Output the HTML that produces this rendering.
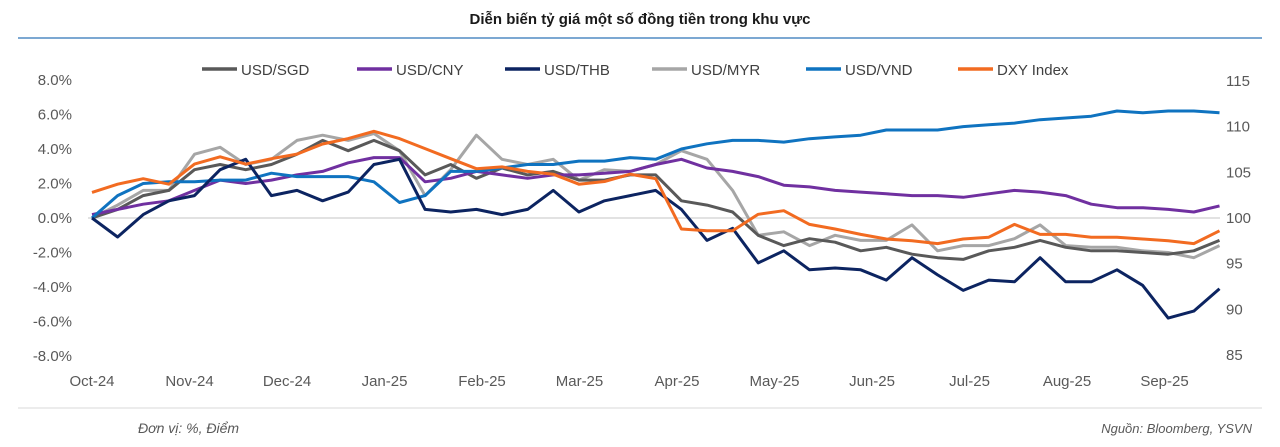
<!DOCTYPE html>
<html><head><meta charset="utf-8"><style>
body{margin:0;background:#fff;}
svg text{font-family:"Liberation Sans","Noto Sans CJK SC",sans-serif;}
</style></head><body>
<svg width="1280" height="442" viewBox="0 0 1280 442">
<text x="640" y="24" text-anchor="middle" font-size="15" font-weight="bold" fill="#1a1a1a">Diễn biến tỷ giá một số đồng tiền trong khu vực</text>
<line x1="18" y1="38" x2="1262" y2="38" stroke="#2e75b6" stroke-width="1.2"/>
<line x1="18" y1="408" x2="1262" y2="408" stroke="#d9d9d9" stroke-width="1"/>
<text x="138" y="433" font-size="14" font-style="italic" fill="#595959">Đơn vị: %, Điểm</text>
<text x="1252" y="433" text-anchor="end" font-size="13" font-style="italic" fill="#595959">Nguồn: Bloomberg, YSVN</text>
<g id="axes"></g><g id="series"></g><g id="legend"></g>
</svg>
<script>
const xLabels=["Oct-24","Nov-24","Dec-24","Jan-25","Feb-25","Mar-25","Apr-25","May-25","Jun-25","Jul-25","Aug-25","Sep-25"];
const xLabelPos=[0,1,2,3,4,5,6,7,8,9,10,11];
const leftTicks=[8,6,4,2,0,-2,-4,-6,-8];
const rightTicks=[115,110,105,100,95,90,85];
const seriesNames=["USD/SGD","USD/CNY","USD/THB","USD/MYR","USD/VND","DXY Index"];
const sgd=[0,0.5,1.3,1.6,2.8,3.1,2.8,3.1,3.7,4.5,3.9,4.5,3.9,2.5,3.1,2.3,2.9,2.5,2.7,2.2,2.2,2.5,2.5,1.0,0.75,0.35,-1.0,-1.6,-1.2,-1.4,-1.9,-1.7,-2.1,-2.3,-2.4,-1.9,-1.7,-1.3,-1.7,-1.9,-1.9,-2.0,-2.1,-1.9,-1.3];
const cny=[0.2,0.5,0.8,1.0,1.6,2.2,2.0,2.2,2.5,2.7,3.2,3.5,3.5,2.1,2.3,2.7,2.5,2.3,2.5,2.5,2.6,2.7,3.1,3.4,2.9,2.7,2.4,1.9,1.8,1.6,1.5,1.4,1.3,1.3,1.2,1.4,1.6,1.5,1.3,0.8,0.6,0.6,0.5,0.35,0.7];
const thb=[0,-1.1,0.2,1.0,1.3,2.8,3.4,1.3,1.6,1.0,1.5,3.1,3.4,0.5,0.35,0.5,0.2,0.5,1.6,0.35,1.0,1.3,1.6,0.5,-1.3,-0.6,-2.6,-1.9,-3.0,-2.9,-3.0,-3.6,-2.3,-3.3,-4.2,-3.6,-3.7,-2.3,-3.7,-3.7,-3.0,-3.9,-5.8,-5.4,-4.1];
const myr=[0,0.75,1.6,1.6,3.7,4.1,3.1,3.4,4.5,4.8,4.5,4.9,3.9,1.3,2.8,4.8,3.4,3.1,3.4,2.2,2.8,2.7,3.1,3.9,3.4,1.6,-1.0,-0.8,-1.6,-1.0,-1.3,-1.3,-0.4,-1.9,-1.6,-1.6,-1.2,-0.4,-1.6,-1.7,-1.7,-1.9,-2.0,-2.3,-1.6];
const vnd=[0,1.3,2.0,2.1,2.1,2.2,2.2,2.6,2.4,2.4,2.4,2.1,0.9,1.3,2.7,2.7,2.9,3.1,3.1,3.3,3.3,3.5,3.4,4.0,4.3,4.5,4.5,4.4,4.6,4.7,4.8,5.1,5.1,5.1,5.3,5.4,5.5,5.7,5.8,5.9,6.2,6.1,6.2,6.2,6.1];
const dxy=[102.8,103.7,104.3,103.7,105.9,106.7,105.9,106.5,107.0,108.1,108.7,109.5,108.7,107.6,106.5,105.4,105.6,105.1,104.8,103.7,104.0,104.8,104.3,98.8,98.6,98.6,100.4,100.8,99.3,98.8,98.2,97.7,97.5,97.2,97.7,97.9,99.3,98.2,98.2,97.9,97.9,97.7,97.5,97.2,98.6];

const NS="http://www.w3.org/2000/svg";
function mk(tag,attrs,parent){const e=document.createElementNS(NS,tag);for(const k in attrs)e.setAttribute(k,attrs[k]);parent.appendChild(e);return e;}
const xMonth=m=>92+m*97.5;
const xIdx=i=>92+i*8*3.203;
const yL=p=>218-p*17.25;
const yR=v=>218-(v-100)*9.13;
const axes=document.getElementById('axes');
const zl=mk('line',{x1:88,y1:yL(0),x2:1220,y2:yL(0),stroke:'#d9d9d9','stroke-width':1.5},axes);


leftTicks.forEach(t=>{const e=mk('text',{x:72,y:yL(t)+5,'text-anchor':'end','font-size':15,fill:'#595959'},axes);e.textContent=t.toFixed(1)+'%';

});
rightTicks.forEach(t=>{const e=mk('text',{x:1226,y:yR(t)+5,'font-size':15,fill:'#595959'},axes);e.textContent=t;

});
xLabels.forEach((l,i)=>{const e=mk('text',{x:xMonth(xLabelPos[i]),y:386,'text-anchor':'middle','font-size':15,fill:'#595959'},axes);e.textContent=l;

});
const colors=['#595959','#7030a0','#0c2461','#a6a6a6','#0f73c0','#f26b21'];
const data=[sgd,cny,thb,myr,vnd,dxy];
const sg=document.getElementById('series');
const order=[3,0,1,4,2,5];
order.forEach(k=>{const arr=data[k];const yf=k===5?yR:yL;
const d=arr.map((v,i)=>(i?'L':'M')+xIdx(i).toFixed(1)+','+yf(v).toFixed(1)).join('');
const p=mk('path',{d:d,fill:'none',stroke:colors[k],'stroke-width':3,'stroke-linejoin':'round'},sg);

});
const lg=document.getElementById('legend');
const lx=[202,357,505,652,806,958];
seriesNames.forEach((n,i)=>{const g=mk('g',{},lg);


mk('line',{x1:lx[i],y1:69,x2:lx[i]+35,y2:69,stroke:colors[i],'stroke-width':3.5},g);
const t=mk('text',{x:lx[i]+39,y:75,'font-size':15,fill:'#404040'},g);t.textContent=n;});
</script>
</body></html>
